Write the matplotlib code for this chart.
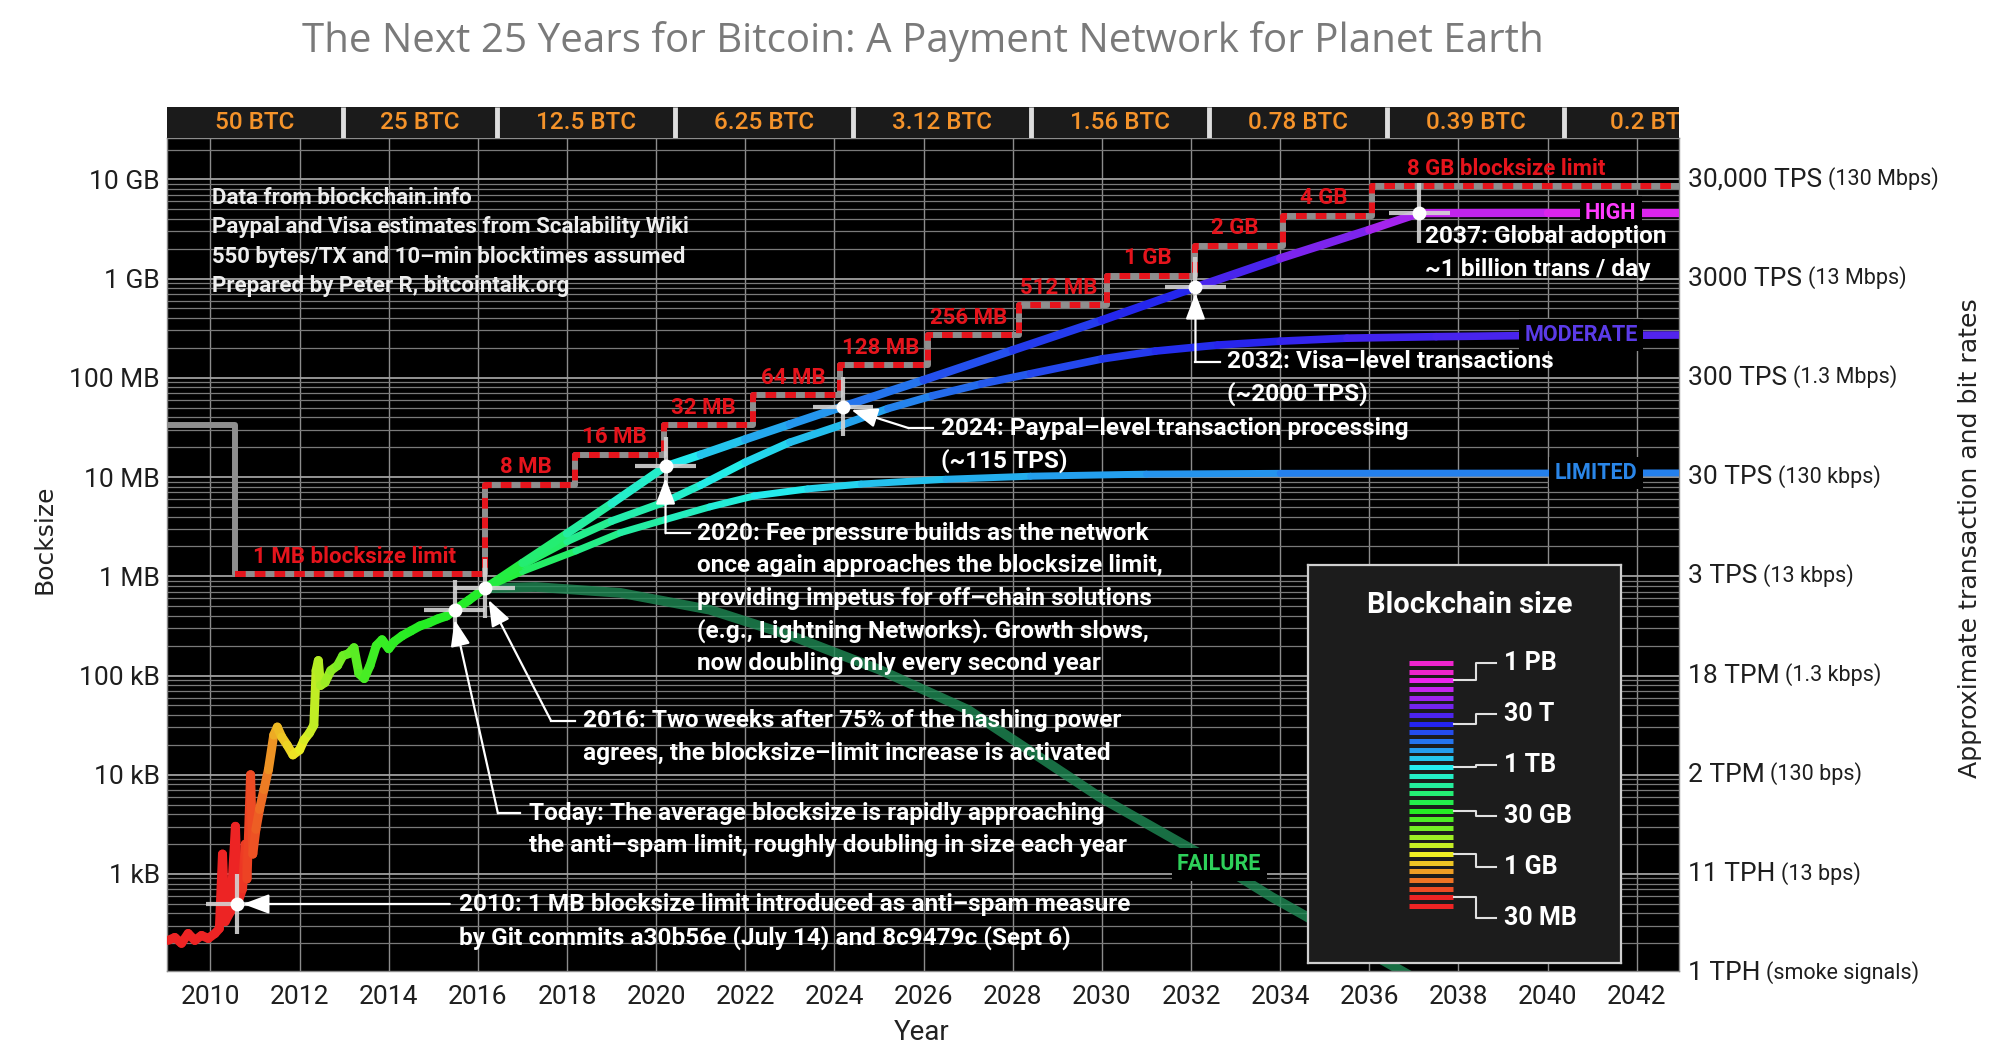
import numpy as np
import matplotlib
matplotlib.use("Agg")
import matplotlib.pyplot as plt
import matplotlib.transforms as mtrans
from matplotlib.collections import LineCollection
from matplotlib.colors import hsv_to_rgb
from matplotlib.ticker import LogLocator, NullFormatter

plt.rcParams['font.family'] = ['Roboto', 'DejaVu Sans']

# ------------------------------------------------------------------ data
hist_years = [2009.05, 2009.20, 2009.35, 2009.50, 2009.65, 2009.80, 2009.95, 2010.10,
              2010.20, 2010.27, 2010.33, 2010.45, 2010.56, 2010.62, 2010.72, 2010.78,
              2010.82, 2010.90, 2010.95, 2011.02, 2011.10, 2011.20, 2011.30, 2011.42,
              2011.50, 2011.60, 2011.72, 2011.85, 2012.00, 2012.10, 2012.22, 2012.32,
              2012.37, 2012.42, 2012.47, 2012.57, 2012.70, 2012.85, 2012.97, 2013.10,
              2013.22, 2013.33, 2013.45, 2013.58, 2013.72, 2013.85, 2014.00, 2014.12,
              2014.30, 2014.50, 2014.70, 2014.90, 2015.10, 2015.30, 2015.48, 2015.80,
              2016.15]
hist_bytes = [214, 229, 200, 251, 214, 240, 224, 251,
              282, 1585, 331, 417, 3020, 525, 708, 1995,
              891, 10000, 1585, 2818, 4467, 7079, 11220, 25120,
              30200, 23990, 19950, 15850, 17780, 22390, 26300, 31620,
              112200, 141300, 79430, 85110, 112200, 125900, 158500, 166000,
              190500, 104700, 93330, 125900, 199500, 229100, 186200, 218800,
              251200, 281800, 316200, 338800, 371500, 398100, 457100, 575400,
              755100]

high_years = [2016.15, 2017.0, 2018.0, 2019.0, 2020.21, 2021.0, 2022.0, 2023.0, 2024.19,
              2026.0, 2028.0, 2030.0, 2032.10, 2034.0, 2036.0, 2037.12, 2040.0, 2042.94]
high_bytes = [7.55e5, 1.36e6, 2.7e6, 5.4e6, 1.28e7, 1.68e7, 2.4e7, 3.4e7, 5.14e7,
              9.5e7, 1.9e8, 3.8e8, 8.17e8, 1.6e9, 3.1e9, 4.57e9, 4.6e9, 4.6e9]

moderate_years = [2016.15, 2017.0, 2018.0, 2019.0, 2020.2, 2021.0, 2022.0, 2023.0, 2024.2,
                  2025.2, 2026.2, 2027.3, 2028.4, 2030.0, 2031.2, 2032.6, 2034.0, 2035.5,
                  2037.5, 2039.4, 2042.94]
moderate_bytes = [7.55e5, 1.3e6, 2.25e6, 3.6e6, 5.62e6, 8.3e6, 1.41e7, 2.24e7, 3.39e7,
                  4.9e7, 6.6e7, 8.7e7, 1.1e8, 1.55e8, 1.86e8, 2.14e8, 2.34e8, 2.51e8,
                  2.6e8, 2.66e8, 2.7e8]

limited_years = [2016.15, 2017.0, 2018.2, 2019.2, 2020.2, 2021.2, 2022.2, 2023.4, 2024.6,
                 2026.5, 2028.4, 2031.0, 2034.0, 2042.94]
limited_bytes = [7.55e5, 1.12e6, 1.8e6, 2.75e6, 3.72e6, 5.0e6, 6.46e6, 7.6e6, 8.5e6,
                 9.5e6, 1.02e7, 1.07e7, 1.09e7, 1.1e7]

failure_years = [2016.15, 2017.3, 2019.2, 2021.2, 2023.1, 2025.0, 2027.0, 2029.94,
                 2031.9, 2032.63, 2033.8, 2034.6, 2036.9]
failure_bytes = [7.55e5, 7.8e5, 6.8e5, 4.6e5, 2.45e5, 1.15e5, 4.5e4, 6.0e3,
                 1.9e3, 1.25e3, 5.9e2, 3.7e2, 95]

limit_years = [2009.03, 2010.54, 2016.17, 2018.17, 2020.17, 2022.17, 2024.13, 2026.10,
               2028.14, 2030.12, 2032.08, 2034.07, 2036.07]
limit_bytes = [33554432, 1048576, 8388608, 16777216, 33554432, 67108864, 134217728,
               268435456, 536870912, 1073741824, 2147483648, 4294967296, 8589934592]
limit_labels = ['', '1 MB blocksize limit', '8 MB', '16 MB', '32 MB', '64 MB', '128 MB',
                '256 MB', '512 MB', '1 GB', '2 GB', '4 GB', '8 GB blocksize limit']

halving_years = [2009.03, 2012.97, 2016.43, 2020.43, 2024.42, 2028.40, 2032.41,
                 2036.40, 2040.37, 2044.36]
block_rewards = ['50 BTC', '25 BTC', '12.5 BTC', '6.25 BTC', '3.12 BTC', '1.56 BTC',
                 '0.78 BTC', '0.39 BTC', '0.2 BTC']

milestone_years = [2010.59, 2015.48, 2016.15, 2020.21, 2024.19, 2032.10, 2037.12]
milestone_bytes = [498, 457100, 755100, 1.28e7, 5.14e7, 8.17e8, 4.57e9]

year_ticks = list(range(2010, 2043, 2))
size_ticks = [1e3, 1e4, 1e5, 1e6, 1e7, 1e8, 1e9, 1e10]
size_tick_labels = ['1 kB', '10 kB', '100 kB', '1 MB', '10 MB', '100 MB', '1 GB', '10 GB']
rate_ticks = [1e2, 1e3, 1e4, 1e5, 1e6, 1e7, 1e8, 1e9, 1e10]
rate_labels = ['1 TPH', '11 TPH', '2 TPM', '18 TPM', '3 TPS', '30 TPS', '300 TPS',
               '3000 TPS', '30,000 TPS']
rate_notes = ['(smoke signals)', '(13 bps)', '(130 bps)', '(1.3 kbps)', '(13 kbps)',
              '(130 kbps)', '(1.3 Mbps)', '(13 Mbps)', '(130 Mbps)']

chain_stripe_count = 29
chain_labels = ['30 MB', '1 GB', '30 GB', '1 TB', '30 T', '1 PB']
chain_label_stripes = [1, 6, 11, 16, 21, 26]

# ------------------------------------------------------------------ style
SAT, VAL = 0.85, 0.93
HUE_HIST = ([2009.0, 2010.6, 2011.0, 2011.3, 2011.5, 2012.0, 2012.4, 2013.0, 2013.6, 2014.5, 2016.2],
            [0.0, 0.0, 0.04, 0.08, 0.12, 0.165, 0.21, 0.27, 0.31, 0.33, 0.34])
HUE_HIGH = ([2016.15, 2018, 2020.2, 2022, 2024.2, 2026, 2028, 2030, 2032.1, 2034, 2036, 2037.1, 2039, 2043],
            [0.34, 0.42, 0.49, 0.55, 0.58, 0.62, 0.64, 0.655, 0.675, 0.72, 0.76, 0.785, 0.80, 0.83])
HUE_MOD = ([2016.15, 2018, 2020.2, 2022, 2024.2, 2026.2, 2028.4, 2032, 2036, 2043],
           [0.34, 0.41, 0.46, 0.51, 0.55, 0.60, 0.63, 0.66, 0.69, 0.71])
HUE_LIM = ([2016.15, 2018, 2020.2, 2022, 2024.6, 2028.4, 2034, 2043],
           [0.34, 0.40, 0.45, 0.49, 0.53, 0.56, 0.58, 0.60])
NOTE_FONT = dict(fontsize=17.6, color='white', fontweight='bold')


def hue_rgb(h):
    return hsv_to_rgb([h % 1.0, SAT, VAL])


def gradient_line(ax, xs, ys, knots, lw, z):
    pts = np.column_stack([np.asarray(xs, float), np.asarray(ys, float)])
    segs = np.stack([pts[:-1], pts[1:]], axis=1)
    mids = 0.5 * (pts[:-1, 0] + pts[1:, 0])
    cols = [hue_rgb(np.interp(m, knots[0], knots[1])) for m in mids]
    lc = LineCollection(segs, colors=cols, linewidths=lw, capstyle='round',
                        joinstyle='round', zorder=z)
    ax.add_collection(lc)


W, H = 2000, 1051
fig = plt.figure(figsize=(W / 100, H / 100), dpi=100)
fig.patch.set_facecolor('white')

AX_L, AX_R = 167 / W, 1678.6 / W
AX_B, AX_T = 1 - 970.7 / H, 1 - 137.7 / H
HDR_T = 1 - 107.3 / H
X0, X1 = 2009.025, 2042.94
Y0, Y1 = 10 ** 2.025, 10 ** 10.42

ax = fig.add_axes([AX_L, AX_B, AX_R - AX_L, AX_T - AX_B])
ax.set_facecolor('black')
ax.set_yscale('log')
ax.set_xlim(X0, X1)
ax.set_ylim(Y0, Y1)
ax.set_xticks(year_ticks, [str(y) for y in year_ticks])
ax.set_yticks(size_ticks, size_tick_labels)
ax.yaxis.set_minor_locator(LogLocator(base=10, subs=np.arange(2, 10), numticks=100))
ax.yaxis.set_minor_formatter(NullFormatter())
ax.tick_params(axis='both', which='both', length=0, labelsize=19, labelcolor='#1e1e1e')
ax.tick_params(axis='y', pad=5)
ax.tick_params(axis='x', pad=10)
ax.grid(True, axis='x', color='#8c8c8c', lw=1.0)
ax.grid(True, axis='y', which='major', color='#a0a0a0', lw=1.3)
ax.grid(True, axis='y', which='minor', color='#7a7a7a', lw=0.9)
ax.set_axisbelow(True)
for s in ax.spines.values():
    s.set_color('#8c8c8c')
    s.set_linewidth(1)

# header with block rewards
hdr = fig.add_axes([AX_L, AX_T, AX_R - AX_L, HDR_T - AX_T])
hdr.set_facecolor('#1b1b1b')
hdr.set_xlim(X0, X1)
hdr.set_ylim(0, 1)
hdr.set_xticks([])
hdr.set_yticks([])
for s in hdr.spines.values():
    s.set_visible(False)
hdr.vlines(halving_years[1:-1], 0, 1, color='#dedede', lw=3.5)
for i, lab in enumerate(block_rewards):
    xc = 0.5 * (halving_years[i] + halving_years[i + 1])
    hdr.text(xc, 0.5, lab, ha='center', va='center', fontsize=17.5, color='#f5932a',
             fontweight='medium', clip_on=True)

# failure scenario
ax.plot(failure_years, failure_bytes, color='#1f8a55', lw=7, alpha=0.8,
        solid_capstyle='butt', zorder=2.5)

# block size limit
lx = limit_years + [X1]
ly = limit_bytes + [limit_bytes[-1]]
ax.plot(lx, ly, drawstyle='steps-post', color='#8e8e8e', lw=4.3, zorder=3)
ax.plot(lx[1:], ly[1:], drawstyle='steps-post', color='#e5141c', lw=4.3,
        linestyle=(0, (1.8, 1.5)), zorder=3.1)
label_dx = [0, 2.7] + [0.9] * 10 + [3.0]
for i, lab in enumerate(limit_labels):
    if not lab:
        continue
    ax.annotate(lab, xy=(limit_years[i] + label_dx[i], limit_bytes[i]), xytext=(0, 12.5),
                textcoords='offset points', ha='center', va='center', fontsize=16,
                fontweight='bold', color='#e5141c', zorder=3.2)

# projections and history
gradient_line(ax, limited_years, limited_bytes, HUE_LIM, 5.0, 4.0)
gradient_line(ax, moderate_years, moderate_bytes, HUE_MOD, 5.5, 4.1)
gradient_line(ax, high_years, high_bytes, HUE_HIGH, 6.0, 4.2)
gradient_line(ax, hist_years, hist_bytes, HUE_HIST, 6.5, 5.0)

# scenario labels
scen = [('HIGH', 2041.42, high_bytes[-1], '#ff3cff'),
        ('MODERATE', 2040.75, moderate_bytes[-1], '#5b3be8'),
        ('LIMITED', 2041.09, limited_bytes[-1], '#2a86e8'),
        ('FAILURE', 2032.63, 1.25e3, '#2ed05a')]
for lab, x, y, c in scen:
    ax.text(x, y, lab, ha='center', va='center', fontsize=15.5, fontweight='bold', color=c,
            zorder=6, bbox=dict(boxstyle='square,pad=0.25', fc='black', ec='none'))

# milestones
for x, y in zip(milestone_years, milestone_bytes):
    ax.plot([x - 0.68, x + 0.68], [y, y], color='#d4d4d4', lw=3, alpha=0.9, zorder=7,
            solid_capstyle='butt')
    ax.plot([x, x], [y / 2.0, y * 2.0], color='#d4d4d4', lw=3, alpha=0.9, zorder=7,
            solid_capstyle='butt')
ax.plot(milestone_years, milestone_bytes, 'o', color='white', ms=10, mec='none', zorder=8)

# annotations
LINE_PT = 23.5
notes = [
    (["2010: 1 MB blocksize limit introduced as anti–spam measure",
      "by Git commits a30b56e (July 14) and 8c9479c (Sept 6)"],
     (2015.57, 488), [(2015.37, 498), (2010.73, 498)]),
    (["Today: The average blocksize is rapidly approaching",
      "the anti–spam limit, roughly doubling in size each year"],
     (2017.14, 4090), [(2016.94, 4090), (2016.45, 4090), (2015.48, 3.64e5)]),
    (["2016: Two weeks after 75% of the hashing power",
      "agrees, the blocksize–limit increase is activated"],
     (2018.35, 35100), [(2018.17, 35100), (2017.64, 35100), (2016.24, 5.78e5)]),
    (["2020: Fee pressure builds as the network",
      "once again approaches the blocksize limit,",
      "providing impetus for off–chain solutions",
      "(e.g., Lightning Networks). Growth slows,",
      "now doubling only every second year"],
     (2020.91, 2.72e6), [(2020.75, 2.72e6), (2020.21, 2.72e6), (2020.21, 9.75e6)]),
    (["2024: Paypal–level transaction processing", "(~115 TPS)"],
     (2026.39, 3.11e7), [(2026.22, 3.11e7), (2025.67, 3.11e7), (2024.38, 4.75e7)]),
    (["2032: Visa–level transactions", "(~2000 TPS)"],
     (2032.81, 1.46e8), [(2032.66, 1.46e8), (2032.10, 1.46e8), (2032.10, 7.14e8)]),
    (["2037: Global adoption", "~1 billion trans / day"],
     (2037.25, 2.65e9), None),
]
for lines, (tx, ty), path in notes:
    for k, line in enumerate(lines):
        ax.annotate(line, xy=(tx, ty), xytext=(0, -k * LINE_PT), textcoords='offset points',
                    ha='left', va='center', zorder=10, **NOTE_FONT)
    if path:
        xs, ys = zip(*path)
        ax.plot(xs[:-1], ys[:-1], color='white', lw=1.6, zorder=9)
        ax.annotate('', xy=path[-1], xytext=path[-2],
                    arrowprops=dict(arrowstyle='-|>,head_length=0.8,head_width=0.3',
                                    color='white', lw=1.6, shrinkA=0, shrinkB=0,
                                    mutation_scale=20), zorder=9)

info = ["Data from blockchain.info", "Paypal and Visa estimates from Scalability Wiki",
        "550 bytes/TX and 10–min blocktimes assumed", "Prepared by Peter R, bitcointalk.org"]
for k, line in enumerate(info):
    ax.annotate(line, xy=(2010.04, 6.5e9), xytext=(0, -k * 21.2), textcoords='offset points',
                ha='left', va='center', fontsize=16, color='#eeeeee', fontweight='bold',
                zorder=10)

# right-hand rate labels
btr = mtrans.blended_transform_factory(ax.transAxes, ax.transData)
for y, main, sub in zip(rate_ticks, rate_labels, rate_notes):
    t = ax.text(1.0062, y, main, transform=btr, ha='left', va='center', fontsize=19,
                color='#1e1e1e', clip_on=False)
    ax.annotate(sub, xy=(1, 0), xycoords=t, xytext=(4, 1), textcoords='offset points',
                ha='left', va='bottom', fontsize=15.5, color='#1e1e1e')

# axis titles and title
fig.text(923 / W, 1 - 42 / H, 'The Next 25 Years for Bitcoin: A Payment Network for Planet Earth',
         ha='center', va='center', fontsize=29, color='#7a7a7a', family='Open Sans')
fig.text(44.6 / W, 1 - 539 / H, 'Bocksize', rotation=90, ha='center', va='center',
         fontsize=18, color='#222222', family='DejaVu Sans')
fig.text(1970 / W, 1 - 538 / H, 'Approximate transaction and bit rates', rotation=90,
         ha='center', va='center', fontsize=18.2, color='#222222', family='DejaVu Sans')
fig.text(922 / W, 1 - 1033 / H, 'Year', ha='center', va='center', fontsize=20,
         color='#222222')

# blockchain size legend
LB, LT = 962.7, 565.0
leg = fig.add_axes([1307.8 / W, 1 - LB / H, (1620.7 - 1307.8) / W, (LB - LT) / H])
leg.set_facecolor('#1c1c1c')
leg.set_xlim(0, 312.9)
leg.set_ylim(-6.53, 39.29)
leg.set_xticks([])
leg.set_yticks([])
for s in leg.spines.values():
    s.set_color('#cfcfcf')
    s.set_linewidth(1.6)
stripes = np.arange(chain_stripe_count)
stripe_cols = [hue_rgb(min(max((i - 1) / 30.0, 0.0), 0.86)) for i in stripes]
leg.hlines(stripes, 101, 145, colors=stripe_cols, lw=3.6)
leg.text(162, 34.7, 'Blockchain size', ha='center', va='center', fontsize=21,
         color='white', fontweight='bold')
label_pos = np.linspace(-1.42, 28.03, len(chain_labels))
for lab, si, lp in zip(chain_labels, chain_label_stripes, label_pos):
    leg.plot([146, 168, 168, 188], [si, si, lp, lp], color='#e0e0e0', lw=1.5)
    leg.text(196, lp, lab, ha='left', va='center', fontsize=18, color='white',
             fontweight='bold')

fig.savefig('out.png', dpi=100, facecolor='white')
